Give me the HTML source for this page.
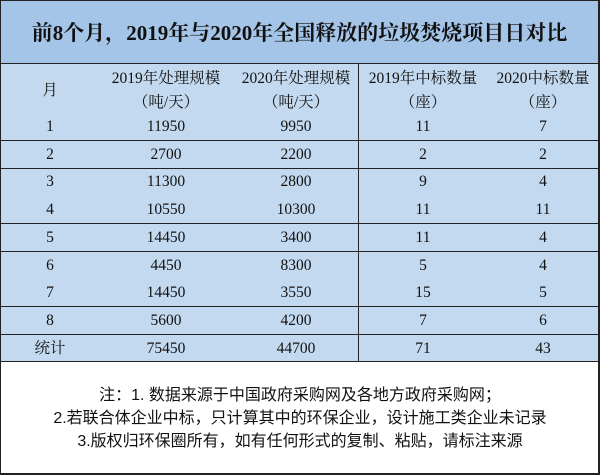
<!DOCTYPE html>
<html><head><meta charset="utf-8"><style>
body{margin:0;width:600px;height:475px;background:#fff;position:relative;overflow:hidden;font-family:"Liberation Serif","Noto Serif CJK SC",serif;color:#111}
.frame{position:absolute;left:0;top:0;width:597px;height:472px;border:1px solid #222;border-right-width:2px;border-bottom-width:2px;box-sizing:content-box}
.title{position:absolute;left:1px;top:1px;width:597px;height:62px;background:#a4c5e8;font-weight:bold;font-size:21px;text-align:center;line-height:64px;border-bottom:1px solid #222}
.body{position:absolute;left:1px;top:64px;width:597px;height:297px;background:#c3d9ef}
.hl{position:absolute;left:1px;width:597px;height:1px;background:#222}
.vl{position:absolute;left:358px;top:64px;width:1px;height:297px;background:#222}
.t{position:absolute;font-size:15.5px;text-align:center;width:140px;margin-left:-70px;line-height:24px;white-space:nowrap}
.note{position:absolute;left:0;width:600px;text-align:center;font-family:"Liberation Sans","Noto Sans CJK SC",sans-serif;font-size:16px;line-height:23px}
</style></head><body>
<div class="frame"></div>
<div class="title">前8个月，2019年与2020年全国释放的垃圾焚烧项目日对比</div>
<div class="body"></div>
<div class="hl" style="top:140px"></div>
<div class="hl" style="top:168px"></div>
<div class="hl" style="top:223px"></div>
<div class="hl" style="top:251px"></div>
<div class="hl" style="top:306px"></div>
<div class="hl" style="top:334px"></div>
<div class="hl" style="top:361px"></div>
<div class="vl"></div>
<div class="t" style="left:50px;top:79px">月</div>
<div class="t" style="left:166px;top:67px">2019年处理规模<br>（吨/天）</div>
<div class="t" style="left:296px;top:67px">2020年处理规模<br>（吨/天）</div>
<div class="t" style="left:423px;top:67px">2019年中标数量<br>（座）</div>
<div class="t" style="left:543px;top:67px">2020中标数量<br>（座）</div>
<div id="rows"></div>
<div class="note" style="top:384px">注：1. 数据来源于中国政府采购网及各地方政府采购网；</div>
<div class="note" style="top:407px">2.若联合体企业中标，只计算其中的环保企业，设计施工类企业未记录</div>
<div class="note" style="top:430px">3.版权归环保圈所有，如有任何形式的复制、粘贴，请标注来源</div>
<script>
var d=[["1","11950","9950","11","7"],["2","2700","2200","2","2"],["3","11300","2800","9","4"],["4","10550","10300","11","11"],["5","14450","3400","11","4"],["6","4450","8300","5","4"],["7","14450","3550","15","5"],["8","5600","4200","7","6"],["统计","75450","44700","71","43"]];
var xs=[50,166,296,423,543],h="";
d.forEach(function(r,i){var y=115+i*27.7;r.forEach(function(c,j){h+='<div class="t" style="left:'+xs[j]+'px;top:'+y+'px">'+c+'</div>';});});
document.getElementById("rows").innerHTML=h;
</script>
</body></html>
